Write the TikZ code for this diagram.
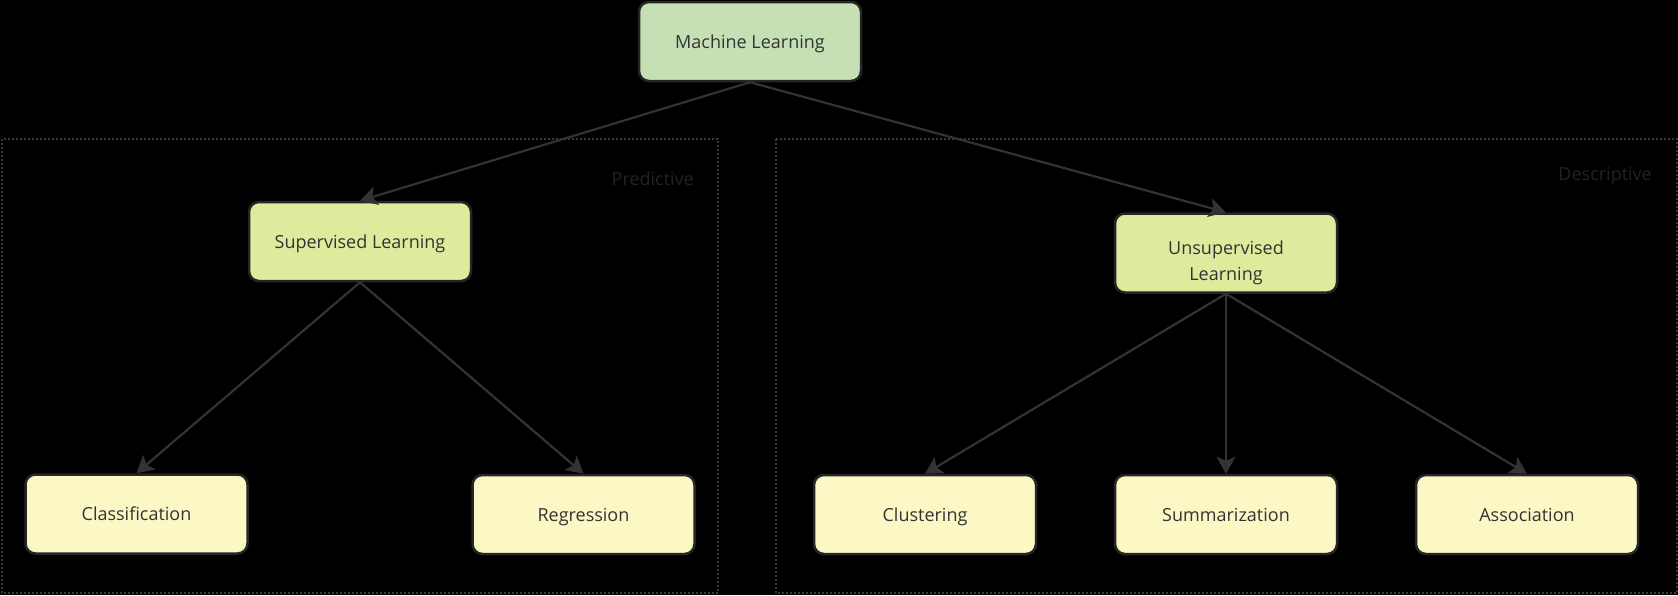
\documentclass[tikz,border=0pt]{standalone}
\usepackage{fontspec}
\setmainfont{Open Sans}
\usetikzlibrary{arrows.meta}
\definecolor{mlfill}{HTML}{C5E0B4}
\definecolor{midfill}{HTML}{DEEB9D}
\definecolor{leaffill}{HTML}{FBF8C6}
\definecolor{edgecol}{HTML}{333333}
\definecolor{bordercol}{HTML}{262626}
\definecolor{txtcol}{HTML}{333333}
\definecolor{framecol}{HTML}{3A3A3A}
\definecolor{grouplabel}{HTML}{222222}
\tikzset{
  box/.style={draw=bordercol, line width=2.5pt, rounded corners=10pt,
    minimum width=222pt, minimum height=79pt, inner sep=0pt,
    text=txtcol, font=\fontsize{18}{26.5}\selectfont},
  oneline/.style={text height=17pt, text depth=4pt},
  twoline/.style={text height=31pt, text depth=3.6pt},
  rootbox/.style={box, oneline, fill=mlfill},
  midbox/.style={box, fill=midfill},
  leafbox/.style={box, oneline, fill=leaffill},
  link/.style={draw=edgecol, line width=2.2pt,
    -{Stealth[length=17pt, width=19pt, inset=4pt]}},
  groupframe/.style={draw=framecol, line width=2pt, dash pattern=on 2pt off 2pt},
  grouptext/.style={text=grouplabel, font=\fontsize{18}{22}\selectfont, anchor=east, inner sep=0pt}
}
\begin{document}
\begin{tikzpicture}[x=1pt, y=-1pt]
  \fill[black] (0,0) rectangle (1678,595);
  \useasboundingbox (0,0) rectangle (1678,595);

  % group frames
  \draw[groupframe] (2,139) rectangle (718,593);
  \draw[groupframe] (776,139) rectangle (1677,593);
  \node[grouptext] (predlabel) at (694,179) {Predictive};
  \node[grouptext] (desclabel) at (1652,176) {Descriptive};

  % nodes
  \node[rootbox] (ml) at (750,41.5) {Machine Learning};
  \node[midbox, oneline] (sup) at (360,241.5) {Supervised Learning};
  \node[midbox, twoline] (unsup) at (1226,253) {\begin{tabular}{@{}c@{}}Unsupervised\\Learning\end{tabular}};
  \node[leafbox] (cls) at (136.5,514) {Classification};
  \node[leafbox] (reg) at (583.5,514.5) {Regression};
  \node[leafbox] (clu) at (925,514.5) {Clustering};
  \node[leafbox] (sum) at (1226,514.5) {Summarization};
  \node[leafbox] (ass) at (1527,514.5) {Association};

  % connectors
  \draw[link] (ml.south) -- (sup.north);
  \draw[link] (ml.south) -- (unsup.north);
  \draw[link] (sup.south) -- (cls.north);
  \draw[link] (sup.south) -- (reg.north);
  \draw[link] (unsup.south) -- (clu.north);
  \draw[link] (unsup.south) -- (sum.north);
  \draw[link] (unsup.south) -- (ass.north);
\end{tikzpicture}
\end{document}
